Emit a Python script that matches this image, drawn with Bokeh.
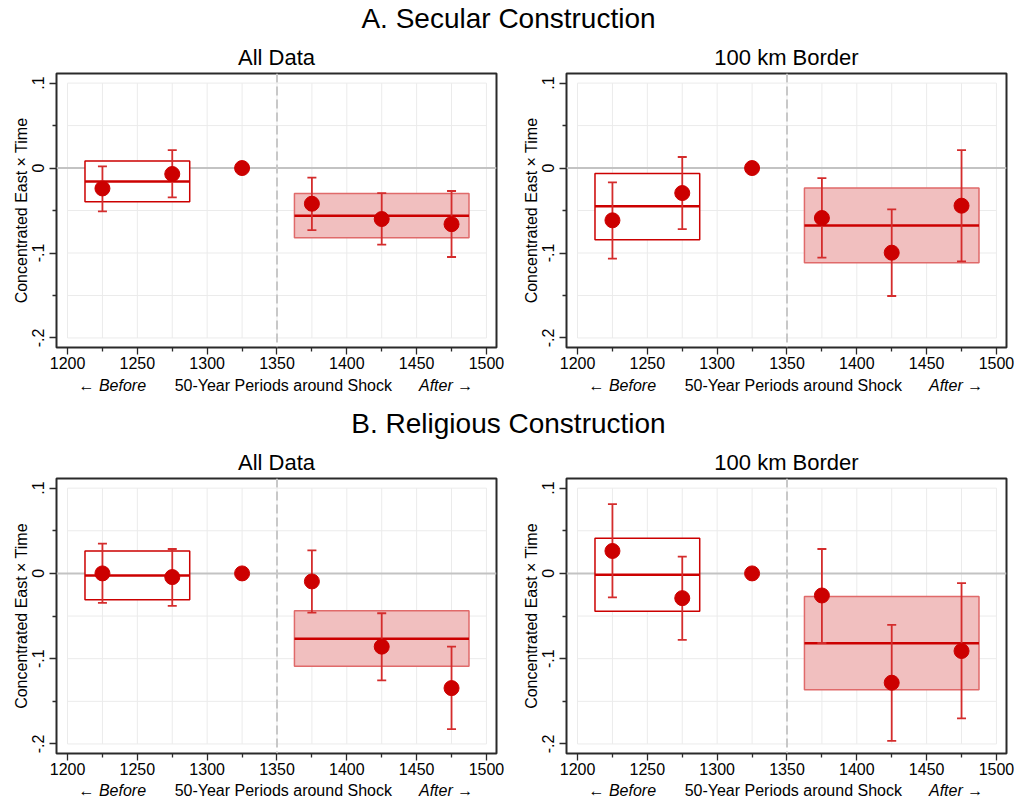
from bokeh.plotting import figure
from bokeh.layouts import column, row
from bokeh.models import Span, FixedTicker, CustomJSTickFormatter, Range1d
from bokeh.core.properties import value
from bokeh.embed import file_html
from bokeh.resources import INLINE

NaN = float("nan")

# ---------------- data ----------------
periods = [1225, 1275, 1325, 1375, 1425, 1475]
pre_periods = [1225, 1275]
post_periods = [1375, 1425, 1475]
shock_year = 1350

x_ticks = [1200, 1250, 1300, 1350, 1400, 1450, 1500]
x_minor = [1225, 1275, 1325, 1375, 1425, 1475]
y_ticks = [-0.2, -0.1, 0.0, 0.1]
y_minor = [-0.15, -0.05, 0.05]
x_grid = [1200, 1225, 1250, 1275, 1300, 1325, 1350, 1375, 1400, 1425, 1450, 1475, 1500]
y_grid = [-0.2, -0.15, -0.1, -0.05, 0.0, 0.05, 0.1]

# A. Secular construction, all data
sec_all_coef = [-0.024, -0.007, 0.0, -0.042, -0.060, -0.066]
sec_all_lo = [-0.051, -0.0345, NaN, -0.073, -0.090, -0.1047]
sec_all_hi = [0.002, 0.021, NaN, -0.0113, -0.0294, -0.027]
sec_all_pre = [-0.0157, -0.0396, 0.0083]    # mean, low, high
sec_all_post = [-0.056, -0.082, -0.030]

# A. Secular construction, 100 km border
sec_bor_coef = [-0.0615, -0.0294, 0.0, -0.0588, -0.0996, -0.0443]
sec_bor_lo = [-0.1067, -0.0718, NaN, -0.1055, -0.1506, -0.1098]
sec_bor_hi = [-0.0168, 0.013, NaN, -0.0118, -0.0486, 0.0212]
sec_bor_pre = [-0.045, -0.0843, -0.0063]
sec_bor_post = [-0.0675, -0.1114, -0.0235]

# B. Religious construction, all data
rel_all_coef = [0.0, -0.0043, 0.0, -0.0094, -0.0859, -0.1345]
rel_all_lo = [-0.0345, -0.038, NaN, -0.0459, -0.1255, -0.1827]
rel_all_hi = [0.0349, 0.0286, NaN, 0.027, -0.0467, -0.0859]
rel_all_pre = [-0.0024, -0.031, 0.0263]
rel_all_post = [-0.0765, -0.109, -0.0439]

# B. Religious construction, 100 km border
rel_bor_coef = [0.0263, -0.029, 0.0, -0.0259, -0.1282, -0.091]
rel_bor_lo = [-0.0282, -0.078, NaN, -0.0816, -0.1965, -0.170]
rel_bor_hi = [0.0812, 0.0196, NaN, 0.0286, -0.0604, -0.0114]
rel_bor_pre = [-0.0016, -0.0443, 0.0412]
rel_bor_post = [-0.082, -0.1365, -0.0271]

section_titles = ["A. Secular Construction", "B. Religious Construction"]
panel_titles = ["All Data", "100 km Border"]
y_label = "Concentrated East \u00d7 Time"
x_label_parts = ["\u2190 Before", "50-Year Periods around Shock", "After \u2192"]

# ---------------- style ----------------
FONT = "Liberation Sans"
RED = "#cc0000"
BAR_RED = "#d42c2c"
FILL = "#f1bfbf"
FILL_LINE = "#e06a6a"
HALF = 12.5
PAGE_W = 1016
FRAME_LEFTS = [56, 566]          # frame left edge of the two columns, in page pixels
CAP_OFFSETS = [22, 226.8, 416.7]  # caption anchors relative to a frame's left edge


def strip(height):
    s = figure(width=PAGE_W, height=height, x_range=Range1d(0, PAGE_W), y_range=Range1d(0, height),
               x_axis_type=None, y_axis_type=None,
               output_backend="svg", toolbar_location=None, min_border=0)
    s.grid.visible = False
    s.outline_line_color = None
    s.background_fill_color = "white"
    s.border_fill_color = "white"
    return s


def heading(text, height, baseline):
    h = strip(height)
    h.text(x=[PAGE_W / 2], y=[baseline], text=[text], text_font=value(FONT),
           text_font_size=value("28px"), text_align="center", text_baseline="alphabetic",
           text_color="black")
    return h


def caption(height, baseline):
    c = strip(height)
    lefts = [fl + CAP_OFFSETS[0] for fl in FRAME_LEFTS]
    mids = [fl + CAP_OFFSETS[1] for fl in FRAME_LEFTS]
    rights = [fl + CAP_OFFSETS[2] for fl in FRAME_LEFTS]
    kw = dict(text_font=value(FONT), text_font_size=value("16px"), text_baseline="alphabetic",
              text_color="black")
    c.text(x=lefts, y=[baseline] * 2, text=[x_label_parts[0]] * 2, text_align="left",
           text_font_style="italic", **kw)
    c.text(x=mids, y=[baseline] * 2, text=[x_label_parts[1]] * 2, text_align="center", **kw)
    c.text(x=rights, y=[baseline] * 2, text=[x_label_parts[2]] * 2, text_align="right",
           text_font_style="italic", **kw)
    return c


def panel(title, coef, lo, hi, pre, post, width, right_border, height, bottom_border):
    p = figure(width=width, height=height, title=title,
               x_range=Range1d(1192.1, 1507.2), y_range=Range1d(-0.2112, 0.1113),
               output_backend="svg", toolbar_location=None,
               min_border_left=56, min_border_right=right_border,
               min_border_top=35, min_border_bottom=bottom_border)
    p.title.text_font = FONT
    p.title.text_font_size = "22px"
    p.title.text_font_style = "normal"
    p.title.align = "center"
    p.title.text_color = "black"
    p.title.standoff = 7
    p.background_fill_color = "white"
    p.border_fill_color = "white"
    p.outline_line_color = "#2a2a2a"
    p.outline_line_width = 2
    p.xgrid.visible = False
    p.ygrid.visible = False

    # light grid inside the labelled region
    p.segment(x0=x_grid, y0=min(y_grid), x1=x_grid, y1=max(y_grid),
              line_color="#ebebeb", line_width=1, level="underlay")
    p.segment(x0=min(x_grid), y0=y_grid, x1=max(x_grid), y1=y_grid,
              line_color="#ebebeb", line_width=1, level="underlay")
    p.add_layout(Span(location=0, dimension="width", line_color="#c3c3c3", line_width=2,
                      level="underlay"))
    p.add_layout(Span(location=shock_year, dimension="height", line_color="#c8c8c8", line_width=2,
                      line_dash="9 4", level="underlay"))

    # boxes: pre (white) and post (shaded)
    p.quad(left=min(pre_periods) - HALF, right=max(pre_periods) + HALF, bottom=pre[1], top=pre[2],
           fill_color="white", line_color=RED, line_width=1.5)
    p.segment(x0=min(pre_periods) - HALF, y0=pre[0], x1=max(pre_periods) + HALF, y1=pre[0],
              line_color=RED, line_width=2.5)
    p.quad(left=min(post_periods) - HALF, right=max(post_periods) + HALF, bottom=post[1], top=post[2],
           fill_color=FILL, line_color=FILL_LINE, line_width=1.5)
    p.segment(x0=min(post_periods) - HALF, y0=post[0], x1=max(post_periods) + HALF, y1=post[0],
              line_color=RED, line_width=2.5)

    # confidence intervals
    xs = [x for x, l in zip(periods, lo) if l == l]
    los = [l for l in lo if l == l]
    his = [h for h in hi if h == h]
    p.segment(x0=xs, y0=los, x1=xs, y1=his, line_color=BAR_RED, line_width=1.8)
    p.scatter(xs, los, marker="dash", size=9, line_color=BAR_RED, line_width=1.8)
    p.scatter(xs, his, marker="dash", size=9, line_color=BAR_RED, line_width=1.8)

    # point estimates
    p.scatter(periods, coef, size=15, fill_color=RED, line_color=RED)

    # axes
    for ax in (p.xaxis[0], p.yaxis[0]):
        ax.axis_line_color = None
        ax.major_tick_in = 0
        ax.major_tick_out = 7
        ax.minor_tick_in = 0
        ax.minor_tick_out = 4
        ax.major_tick_line_color = "#2a2a2a"
        ax.minor_tick_line_color = "#2a2a2a"
        ax.major_tick_line_width = 1.3
        ax.minor_tick_line_width = 1.3
        ax.major_label_text_font = FONT
        ax.major_label_text_font_size = "16px"
        ax.major_label_text_color = "black"
        ax.major_label_standoff = 2
    p.yaxis[0].major_label_standoff = 5
    p.xaxis[0].ticker = FixedTicker(ticks=x_ticks, minor_ticks=x_minor)
    p.yaxis[0].ticker = FixedTicker(ticks=y_ticks, minor_ticks=y_minor)
    p.yaxis[0].formatter = CustomJSTickFormatter(
        code="if (Math.abs(tick) < 1e-9) { return '0'; } return tick.toFixed(1).replace('0.', '.');")
    p.yaxis[0].major_label_orientation = "parallel"
    p.yaxis[0].axis_label = y_label
    p.yaxis[0].axis_label_text_font = FONT
    p.yaxis[0].axis_label_text_font_size = "16px"
    p.yaxis[0].axis_label_text_font_style = "normal"
    p.yaxis[0].axis_label_text_color = "black"
    p.yaxis[0].axis_label_standoff = 0
    return p


headA = heading(section_titles[0], 38, 20.5)
p1 = panel(panel_titles[0], sec_all_coef, sec_all_lo, sec_all_hi, sec_all_pre, sec_all_post, 510, 14, 337, 28)
p2 = panel(panel_titles[1], sec_bor_coef, sec_bor_lo, sec_bor_hi, sec_bor_pre, sec_bor_post, 506, 10, 337, 28)
capA = caption(23, 13.5)
headB = heading(section_titles[1], 45, 19.8)
p3 = panel(panel_titles[0], rel_all_coef, rel_all_lo, rel_all_hi, rel_all_pre, rel_all_post, 510, 14, 338, 28)
p4 = panel(panel_titles[1], rel_bor_coef, rel_bor_lo, rel_bor_hi, rel_bor_pre, rel_bor_post, 506, 10, 338, 28)
capB = caption(18, 9.5)

layout = column(headA, row(p1, p2), capA, headB, row(p3, p4), capB)
open("out.html", "w").write(file_html(layout, INLINE))
